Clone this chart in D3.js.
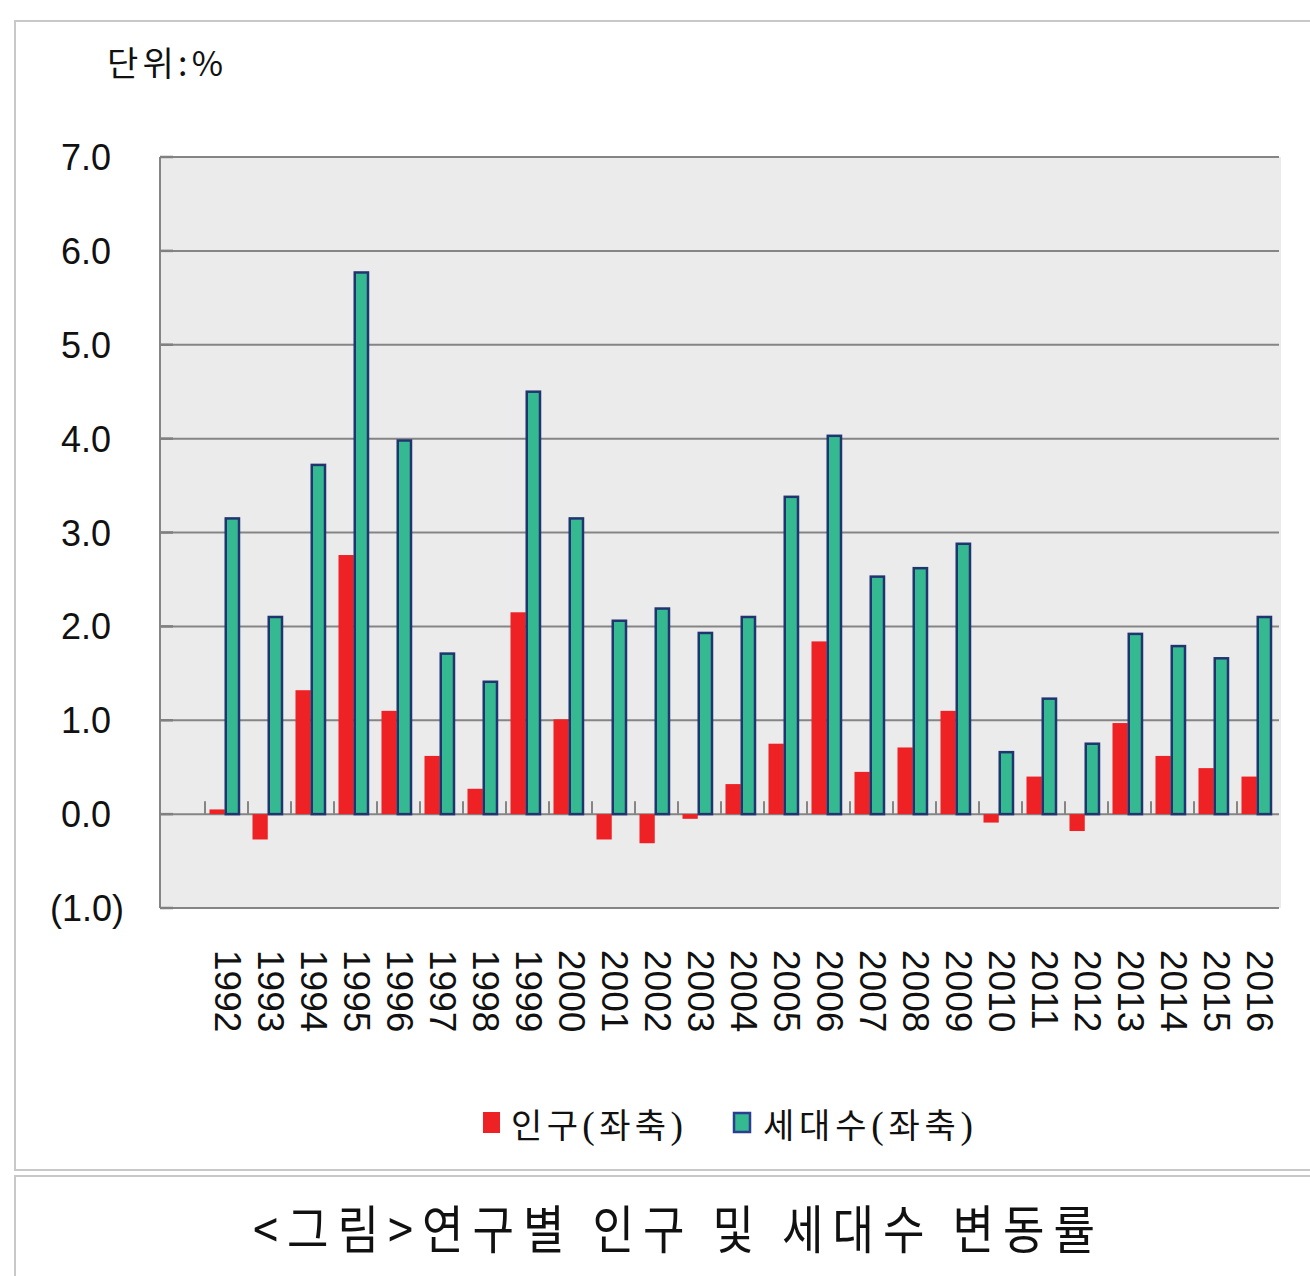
<!DOCTYPE html>
<html><head><meta charset="utf-8">
<script src="https://cdn.jsdelivr.net/npm/d3@7"></script>
<style>
html,body{margin:0;padding:0;background:#fff;}
svg{display:block;}
</style></head>
<body>
<svg id="chart" width="1310" height="1276"></svg>
<script>
const years = ["1992","1993","1994","1995","1996","1997","1998","1999","2000","2001","2002","2003","2004","2005","2006","2007","2008","2009","2010","2011","2012","2013","2014","2015","2016"];
const population = [0.05,-0.27,1.32,2.76,1.10,0.62,0.27,2.15,1.01,-0.27,-0.31,-0.05,0.32,0.75,1.84,0.45,0.71,1.10,-0.09,0.40,-0.18,0.97,0.62,0.49,0.40];
const households = [3.15,2.10,3.72,5.77,3.98,1.71,1.41,4.50,3.15,2.06,2.19,1.93,2.10,3.38,4.03,2.53,2.62,2.88,0.66,1.23,0.75,1.92,1.79,1.66,2.10];
const yTicks = [7,6,5,4,3,2,1,0,-1];
const yTickLabels = ["7.0","6.0","5.0","4.0","3.0","2.0","1.0","0.0","(1.0)"];
const seriesNames = ["인구(좌축)","세대수(좌축)"];
const unitLabel = "단위:%";
const titleText = "<그림>연구별 인구 및 세대수 변동률";

const svg = d3.select("#chart");
const numFont = "'Liberation Sans', Arial, sans-serif";
const krFont = "'Noto Sans CJK KR', 'Noto Sans', sans-serif";
const serifFont = "'Liberation Serif', 'DejaVu Serif', serif";

// frames
svg.append("rect").attr("x",15).attr("y",21).attr("width",1310).attr("height",1149)
  .attr("fill","#fff").attr("stroke","#c8c8c8").attr("stroke-width",2);
svg.append("rect").attr("x",15).attr("y",1176).attr("width",1310).attr("height",120)
  .attr("fill","#fff").attr("stroke","#c8c8c8").attr("stroke-width",2);

const plotL = 160, plotR = 1281, plotT = 157, plotB = 908;
const y = d3.scaleLinear().domain([-1,7]).range([plotB, plotT]);
const x = d3.scaleBand().domain(years).range([205,1280]).padding(0);
const xs = d3.scaleBand().domain(["pop","hh"]).range([4.5,35]).padding(0);

svg.append("rect").attr("x",plotL).attr("y",plotT).attr("width",plotR-plotL).attr("height",plotB-plotT)
  .attr("fill","#ebebeb");

// gridlines
svg.append("g").selectAll("line").data(yTicks).join("line")
  .attr("x1",plotL).attr("x2",1279).attr("y1",d=>y(d)).attr("y2",d=>y(d))
  .attr("stroke","#858585").attr("stroke-width",2);
// left axis
svg.append("line").attr("x1",plotL).attr("x2",plotL).attr("y1",plotT).attr("y2",plotB)
  .attr("stroke","#858585").attr("stroke-width",2);
// y inner ticks
svg.append("g").selectAll("line").data(yTicks).join("line")
  .attr("x1",plotL).attr("x2",plotL+13).attr("y1",d=>y(d)).attr("y2",d=>y(d))
  .attr("stroke","#808080").attr("stroke-width",2.5);

// category ticks on the zero line
svg.append("g").selectAll("line").data(years).join("line")
  .attr("x1",d=>x(d)).attr("x2",d=>x(d)).attr("y1",y(0)-13).attr("y2",y(0))
  .attr("stroke","#858585").attr("stroke-width",2);

// bars
const g = svg.append("g");
g.selectAll("rect.pop").data(years).join("rect").attr("class","pop")
  .attr("x",d=>x(d)+xs("pop"))
  .attr("width",xs.bandwidth())
  .attr("y",(d,i)=>y(Math.max(0,population[i])))
  .attr("height",(d,i)=>Math.abs(y(population[i])-y(0)))
  .attr("fill","#ee2125");
g.selectAll("rect.hh").data(years).join("rect").attr("class","hh")
  .attr("x",d=>x(d)+xs("hh")+1)
  .attr("width",xs.bandwidth()-2)
  .attr("y",(d,i)=>y(Math.max(0,households[i])))
  .attr("height",(d,i)=>Math.abs(y(households[i])-y(0)))
  .attr("fill","#34b991").attr("stroke","#20356f").attr("stroke-width",2.5);

// y labels
svg.append("g").selectAll("text").data(yTicks).join("text")
  .attr("x",(d)=>d<0?124:111).attr("y",d=>y(d)+13)
  .attr("text-anchor","end").attr("font-family",numFont).attr("font-size",36).attr("fill","#111")
  .text((d,i)=>yTickLabels[i]);

// x labels
svg.append("g").selectAll("text").data(years).join("text")
  .attr("transform",d=>`translate(${x(d)+23.5},950) rotate(90)`)
  .attr("dy","0.36em")
  .attr("font-family",numFont).attr("font-size",37).attr("fill","#111")
  .text(d=>d);

// condensed Korean text helper: fits width W with given extra gap per character
function condensed(px, py, size, width, gap, str, serifParens, maxScale){
  const grp = svg.append("g");
  const t = grp.append("text").attr("x",0).attr("y",0).attr("font-family",krFont).attr("font-size",size)
    .attr("fill","#111");
  if(serifParens){
    str.split(/([()])/).filter(s=>s.length).forEach(s=>{
      const ts = t.append("tspan").text(s);
      if(s==="("||s===")") ts.attr("font-family",serifFont).attr("font-size",size*1.1);
    });
  } else t.text(str);
  const L = t.node().getComputedTextLength();
  const n = [...str].length;
  let sx = (width - gap*(n-1)) / L;
  if(maxScale) sx = Math.min(sx, maxScale);
  grp.attr("transform",`translate(${px},${py}) scale(${sx},1)`);
  t.attr("textLength",width/sx).attr("lengthAdjust","spacing");
  return t;
}

// unit label
condensed(107, 76, 34, 116, 2, unitLabel, false, 1);

// legend
const legColors = [{fill:"#ee2125",stroke:"none"},{fill:"#34b991",stroke:"#2a3f8f"}];
const legX = [483, 733], legTX = [511, 763], legW = [172, 210];
legX.forEach((lx,i)=>{
  svg.append("rect").attr("x",lx+(i?1:0)).attr("y",1112+(i?1:0)).attr("width",i?16:17).attr("height",i?19:21)
    .attr("fill",legColors[i].fill).attr("stroke",legColors[i].stroke).attr("stroke-width",2.5);
  condensed(legTX[i], 1138, 34, legW[i], 2, seriesNames[i], true, 1);
});

// title
condensed(253, 1249, 52, 842, 9, titleText, false, 1);
</script>
</body></html>
